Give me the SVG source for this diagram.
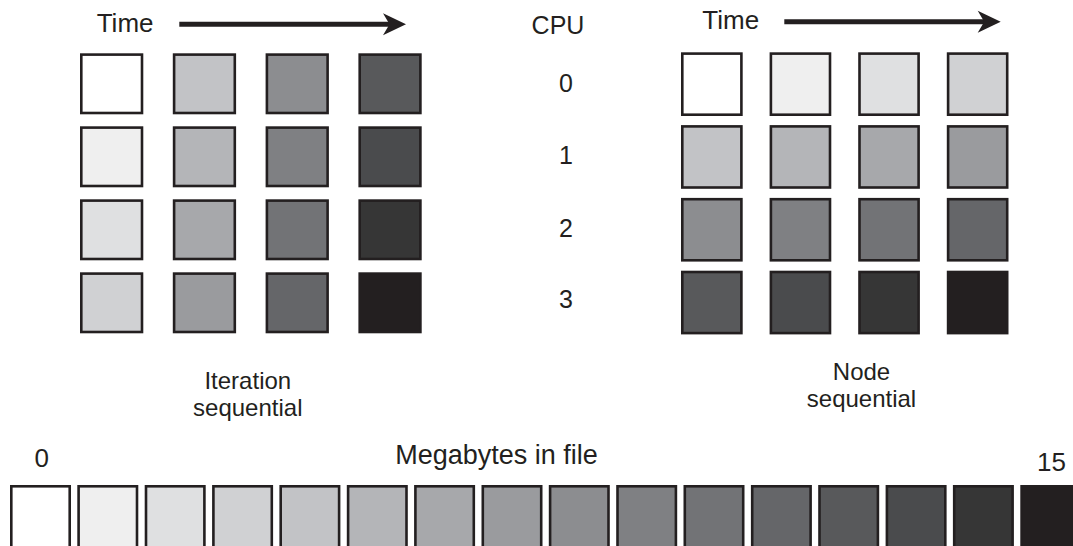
<svg xmlns="http://www.w3.org/2000/svg" width="1073" height="546" viewBox="0 0 1073 546">
<style>
text{font-family:"Liberation Sans",Arial,sans-serif;font-size:26px;fill:#231f20}
.c{text-anchor:middle}
.lbl{font-size:24px;text-anchor:middle}
.cpu{font-size:25px;text-anchor:middle}
rect{stroke:#231f20;stroke-width:2.6}
.ar{stroke:#231f20;stroke-width:5;fill:none}
.hd{fill:#231f20}
.g0{fill:#ffffff}.g1{fill:#efefef}.g2{fill:#dfe0e1}.g3{fill:#d0d1d3}
.g4{fill:#c2c3c6}.g5{fill:#b4b5b8}.g6{fill:#a7a8ab}.g7{fill:#9a9b9e}
.g8{fill:#8c8d90}.g9{fill:#7f8083}.g10{fill:#727376}.g11{fill:#656669}
.g12{fill:#58595b}.g13{fill:#4a4b4d}.g14{fill:#363636}.g15{fill:#231f20}
</style>
<defs>
<path id="ah" d="M0,0 L-23,-11 L-16.5,0 L-23,11 Z"/>
</defs>

<g id="connectors">
<line class="ar" x1="179.3" y1="24.3" x2="392" y2="24.3"/>
<use href="#ah" class="hd" x="406" y="24.3"/>
<line class="ar" x1="784.3" y1="21.7" x2="987" y2="21.7"/>
<use href="#ah" class="hd" x="1000.7" y="21.7"/>
</g>

<g id="labels">
<text x="96.7" y="32">Time</text>
<text x="702.3" y="29">Time</text>
<text class="cpu" x="558" y="34">CPU</text>
<text class="cpu" x="566" y="91.7">0</text>
<text class="cpu" x="566" y="164">1</text>
<text class="cpu" x="566" y="236.7">2</text>
<text class="cpu" x="566" y="308.3">3</text>
<text class="lbl" x="247.8" y="389">Iteration<tspan x="247.8" dy="27">sequential</tspan></text>
<text class="lbl" x="861.5" y="380">Node<tspan x="861.5" dy="27">sequential</tspan></text>
<text class="c" x="496.5" y="464" style="font-size:27px">Megabytes in file</text>
<text class="c" x="41.7" y="467.3">0</text>
<text class="c" x="1051.5" y="471">15</text>
</g>

<g id="iteration-sequential">
<rect class="g0" x="81.3" y="54.6" width="60.7" height="58.4"/>
<rect class="g4" x="174.1" y="54.6" width="60.7" height="58.4"/>
<rect class="g8" x="266.9" y="54.6" width="60.7" height="58.4"/>
<rect class="g12" x="359.7" y="54.6" width="60.7" height="58.4"/>
<rect class="g1" x="81.3" y="127.6" width="60.7" height="58.4"/>
<rect class="g5" x="174.1" y="127.6" width="60.7" height="58.4"/>
<rect class="g9" x="266.9" y="127.6" width="60.7" height="58.4"/>
<rect class="g13" x="359.7" y="127.6" width="60.7" height="58.4"/>
<rect class="g2" x="81.3" y="200.6" width="60.7" height="58.4"/>
<rect class="g6" x="174.1" y="200.6" width="60.7" height="58.4"/>
<rect class="g10" x="266.9" y="200.6" width="60.7" height="58.4"/>
<rect class="g14" x="359.7" y="200.6" width="60.7" height="58.4"/>
<rect class="g3" x="81.3" y="273.6" width="60.7" height="58.4"/>
<rect class="g7" x="174.1" y="273.6" width="60.7" height="58.4"/>
<rect class="g11" x="266.9" y="273.6" width="60.7" height="58.4"/>
<rect class="g15" x="359.7" y="273.6" width="60.7" height="58.4"/>
</g>

<g id="node-sequential">
<rect class="g0" x="682.3" y="53.6" width="59.1" height="61.1"/>
<rect class="g1" x="770.9" y="53.6" width="59.1" height="61.1"/>
<rect class="g2" x="859.5" y="53.6" width="59.1" height="61.1"/>
<rect class="g3" x="948.1" y="53.6" width="59.1" height="61.1"/>
<rect class="g4" x="682.3" y="126.4" width="59.1" height="61.1"/>
<rect class="g5" x="770.9" y="126.4" width="59.1" height="61.1"/>
<rect class="g6" x="859.5" y="126.4" width="59.1" height="61.1"/>
<rect class="g7" x="948.1" y="126.4" width="59.1" height="61.1"/>
<rect class="g8" x="682.3" y="199.2" width="59.1" height="61.1"/>
<rect class="g9" x="770.9" y="199.2" width="59.1" height="61.1"/>
<rect class="g10" x="859.5" y="199.2" width="59.1" height="61.1"/>
<rect class="g11" x="948.1" y="199.2" width="59.1" height="61.1"/>
<rect class="g12" x="682.3" y="272" width="59.1" height="61.1"/>
<rect class="g13" x="770.9" y="272" width="59.1" height="61.1"/>
<rect class="g14" x="859.5" y="272" width="59.1" height="61.1"/>
<rect class="g15" x="948.1" y="272" width="59.1" height="61.1"/>
</g>

<g id="megabytes-scale">
<rect class="g0" x="11.3" y="486.3" width="58.4" height="70"/>
<rect class="g1" x="78.6" y="486.3" width="58.4" height="70"/>
<rect class="g2" x="146" y="486.3" width="58.4" height="70"/>
<rect class="g3" x="213.4" y="486.3" width="58.4" height="70"/>
<rect class="g4" x="280.7" y="486.3" width="58.4" height="70"/>
<rect class="g5" x="348.1" y="486.3" width="58.4" height="70"/>
<rect class="g6" x="415.4" y="486.3" width="58.4" height="70"/>
<rect class="g7" x="482.8" y="486.3" width="58.4" height="70"/>
<rect class="g8" x="550.1" y="486.3" width="58.4" height="70"/>
<rect class="g9" x="617.5" y="486.3" width="58.4" height="70"/>
<rect class="g10" x="684.8" y="486.3" width="58.4" height="70"/>
<rect class="g11" x="752.2" y="486.3" width="58.4" height="70"/>
<rect class="g12" x="819.5" y="486.3" width="58.4" height="70"/>
<rect class="g13" x="886.9" y="486.3" width="58.4" height="70"/>
<rect class="g14" x="954.2" y="486.3" width="58.4" height="70"/>
<rect class="g15" x="1021.6" y="486.3" width="58.4" height="70"/>
</g>
</svg>
